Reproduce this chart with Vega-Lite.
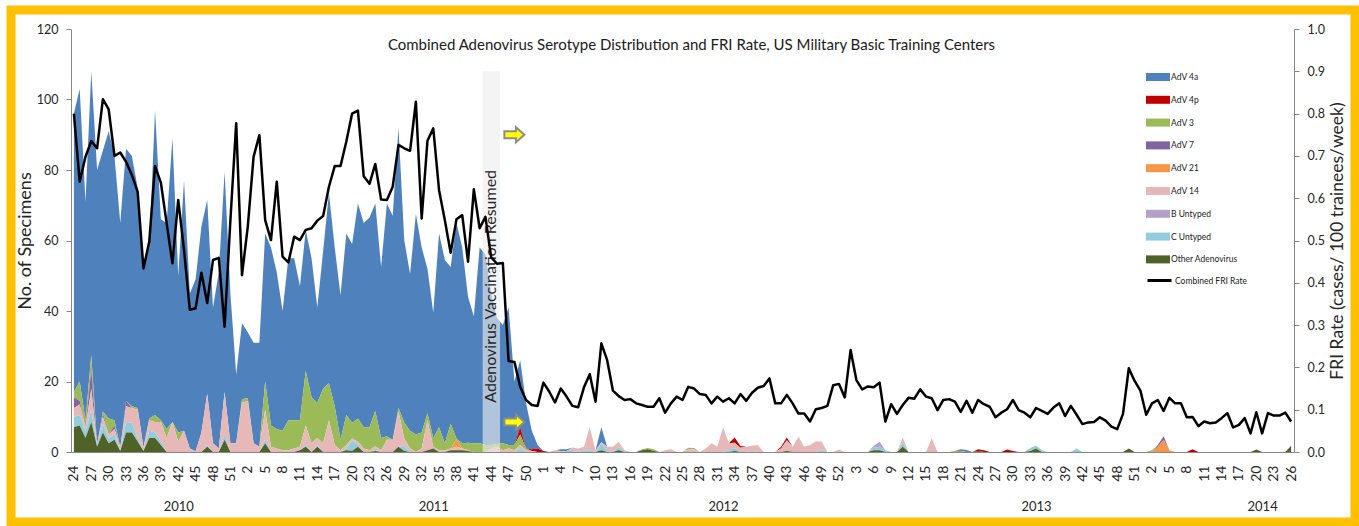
{
"$schema": "https://vega.github.io/schema/vega-lite/v6.json",
"width": 1344, "height": 512,
"autosize": {"type": "none"},
"padding": {"left": 11, "top": 10, "right": 4, "bottom": 4},
"background": "white",
"title": {"text": "Combined Adenovirus Serotype Distribution and FRI Rate, US Military Basic Training Centers", "anchor": "middle", "frame": "group", "baseline": "bottom", "offset": 0, "dy": 58, "dx": 8.5, "font": "Lato", "fontSize": 15, "fontWeight": "normal", "color": "#1a1a1a"},
"datasets": {"adv": [
{"t":"2010-24","a":79,"b":0,"c":1.5,"d":3,"e":0,"f":2.5,"g":0,"h":3,"i":7,"fri":0.8},
{"t":"2010-25","a":83,"b":0,"c":5.5,"d":1,"e":0,"f":3,"g":0,"h":3,"i":7.5,"fri":0.639},
{"t":"2010-26","a":62,"b":0,"c":2,"d":0,"e":0,"f":1,"g":0,"h":2,"i":4,"fri":0.698},
{"t":"2010-27","a":80.5,"b":0,"c":4,"d":5.5,"e":0,"f":6,"g":0,"h":3.5,"i":8.5,"fri":0.735},
{"t":"2010-28","a":77.9,"b":0,"c":0,"d":0,"e":0,"f":0.3,"g":0,"h":0.3,"i":1.5,"fri":0.718},
{"t":"2010-29","a":74,"b":0,"c":0.5,"d":1,"e":0,"f":2,"g":0,"h":2.5,"i":5.5,"fri":0.834},
{"t":"2010-30","a":81.5,"b":0,"c":4.5,"d":0,"e":0,"f":1,"g":0,"h":1.5,"i":2.5,"fri":0.81},
{"t":"2010-31","a":75,"b":0,"c":1.5,"d":1,"e":0,"f":1.5,"g":0,"h":1.5,"i":3.5,"fri":0.7},
{"t":"2010-32","a":63.7,"b":0,"c":0,"d":0,"e":0,"f":1,"g":0,"h":0,"i":0.3,"fri":0.708},
{"t":"2010-33","a":71.5,"b":0,"c":0,"d":1.5,"e":0,"f":4.5,"g":0,"h":3,"i":5.5,"fri":0.686},
{"t":"2010-34","a":71,"b":0,"c":0.5,"d":0,"e":0,"f":4.2,"g":0,"h":2.8,"i":5.5,"fri":0.655},
{"t":"2010-35","a":62.5,"b":0,"c":0.5,"d":0,"e":0,"f":8,"g":0,"h":1,"i":3,"fri":0.615},
{"t":"2010-36","a":52.7,"b":0,"c":0,"d":0,"e":0,"f":1,"g":0,"h":0,"i":0.3,"fri":0.434},
{"t":"2010-37","a":48.5,"b":0,"c":0.5,"d":0,"e":0,"f":3,"g":0,"h":2,"i":4,"fri":0.497},
{"t":"2010-38","a":86.5,"b":0,"c":2,"d":0,"e":0,"f":3,"g":0,"h":1.5,"i":4,"fri":0.676},
{"t":"2010-39","a":57,"b":0,"c":0.5,"d":0,"e":0,"f":5.5,"g":0,"h":1,"i":2,"fri":0.637},
{"t":"2010-40","a":58.5,"b":0,"c":2.5,"d":0,"e":0,"f":4,"g":0,"h":0,"i":0,"fri":0.541},
{"t":"2010-41","a":80.5,"b":0,"c":0,"d":0,"e":0,"f":8.5,"g":0,"h":0,"i":0,"fri":0.446},
{"t":"2010-42","a":44.5,"b":0,"c":2.5,"d":0,"e":0,"f":3,"g":0,"h":0,"i":0,"fri":0.596},
{"t":"2010-43","a":71,"b":0,"c":0,"d":0,"e":0,"f":6,"g":0,"h":0,"i":0,"fri":0.478},
{"t":"2010-44","a":44,"b":0,"c":0,"d":0,"e":0,"f":1,"g":0,"h":0,"i":0,"fri":0.336},
{"t":"2010-45","a":48.8,"b":0,"c":0,"d":0,"e":0,"f":0.2,"g":0,"h":0,"i":0,"fri":0.34},
{"t":"2010-46","a":58.5,"b":0,"c":0,"d":0,"e":0,"f":5.5,"g":0,"h":0,"i":0,"fri":0.424},
{"t":"2010-47","a":55,"b":0,"c":0,"d":0,"e":0,"f":14.5,"g":0,"h":0.5,"i":1.5,"fri":0.352},
{"t":"2010-48","a":38.5,"b":0,"c":0,"d":0,"e":0,"f":2.5,"g":0,"h":0,"i":0,"fri":0.454},
{"t":"2010-49","a":50,"b":0,"c":0,"d":0,"e":0,"f":1,"g":0,"h":0,"i":0,"fri":0.459},
{"t":"2010-50","a":62.5,"b":0,"c":0,"d":0,"e":0,"f":12,"g":0,"h":1.5,"i":3.5,"fri":0.296},
{"t":"2010-51","a":42.5,"b":0,"c":0,"d":0,"e":0,"f":2.5,"g":0,"h":0,"i":0,"fri":0.548},
{"t":"2010-52","a":19.5,"b":0,"c":0,"d":0,"e":0,"f":2.5,"g":0,"h":0,"i":0,"fri":0.777},
{"t":"2011-1","a":21.5,"b":0,"c":1,"d":0,"e":0,"f":14,"g":0,"h":0,"i":0,"fri":0.418},
{"t":"2011-2","a":18.7,"b":0,"c":0.8,"d":0,"e":0,"f":14.5,"g":0,"h":0,"i":0,"fri":0.533},
{"t":"2011-3","a":28.5,"b":0,"c":0,"d":0,"e":0,"f":2.5,"g":0,"h":0,"i":0,"fri":0.698},
{"t":"2011-4","a":29.5,"b":0,"c":0,"d":0,"e":0,"f":1.5,"g":0,"h":0,"i":0,"fri":0.749},
{"t":"2011-5","a":42,"b":0,"c":8,"d":0,"e":0,"f":8.5,"g":0,"h":1,"i":2.5,"fri":0.548},
{"t":"2011-6","a":50.5,"b":0,"c":6,"d":0,"e":0,"f":1.5,"g":0,"h":0,"i":0,"fri":0.501},
{"t":"2011-7","a":44.5,"b":0,"c":5.5,"d":0,"e":0,"f":1,"g":0,"h":0,"i":0,"fri":0.639},
{"t":"2011-8","a":34,"b":0,"c":5.5,"d":0,"e":0,"f":0.5,"g":0,"h":0,"i":0,"fri":0.462},
{"t":"2011-9","a":46,"b":0,"c":8.5,"d":0,"e":0,"f":0.5,"g":0,"h":0,"i":0,"fri":0.448},
{"t":"2011-10","a":46,"b":0,"c":8,"d":0,"e":0,"f":1,"g":0,"h":0,"i":0,"fri":0.509},
{"t":"2011-11","a":38,"b":0,"c":7.5,"d":0,"e":0,"f":1,"g":0,"h":0,"i":0.5,"fri":0.501},
{"t":"2011-12","a":40,"b":0,"c":15.5,"d":0,"e":0,"f":5.5,"g":0,"h":0.5,"i":1.5,"fri":0.525},
{"t":"2011-13","a":39.5,"b":0,"c":13,"d":0,"e":0,"f":2.5,"g":0,"h":0,"i":0,"fri":0.529},
{"t":"2011-14","a":27,"b":0,"c":10,"d":0,"e":0,"f":2,"g":0,"h":0.5,"i":1.5,"fri":0.547},
{"t":"2011-15","a":39,"b":0,"c":15.5,"d":0,"e":0,"f":2.5,"g":0,"h":0,"i":0,"fri":0.558},
{"t":"2011-16","a":54,"b":0,"c":10.5,"d":0,"e":0,"f":9,"g":0,"h":0,"i":0,"fri":0.627},
{"t":"2011-17","a":45,"b":0,"c":11,"d":0,"e":0,"f":2,"g":0,"h":0,"i":0,"fri":0.676},
{"t":"2011-18","a":41,"b":0,"c":3,"d":0,"e":0,"f":0.5,"g":0,"h":0,"i":0,"fri":0.676},
{"t":"2011-19","a":51.5,"b":0,"c":8.5,"d":0,"e":0,"f":1,"g":0,"h":0.5,"i":0.5,"fri":0.734},
{"t":"2011-20","a":50.7,"b":0,"c":4.5,"d":0,"e":0,"f":0.5,"g":0,"h":3,"i":0.3,"fri":0.8},
{"t":"2011-21","a":61,"b":0,"c":6.5,"d":0,"e":0,"f":1,"g":0,"h":0.5,"i":1.5,"fri":0.807},
{"t":"2011-22","a":58,"b":0,"c":6,"d":0,"e":0,"f":1,"g":0,"h":0,"i":0,"fri":0.652},
{"t":"2011-23","a":59.5,"b":0,"c":6.5,"d":0,"e":0,"f":0.5,"g":0,"h":0,"i":0,"fri":0.634},
{"t":"2011-24","a":58.9,"b":0,"c":10,"d":0,"e":0,"f":1,"g":0,"h":0.3,"i":0.3,"fri":0.681},
{"t":"2011-25","a":48.5,"b":0,"c":3.5,"d":0,"e":0,"f":0.5,"g":0,"h":0,"i":0,"fri":0.597},
{"t":"2011-26","a":66,"b":0,"c":1,"d":0,"e":0,"f":3.5,"g":0,"h":0,"i":0,"fri":0.596},
{"t":"2011-27","a":63.5,"b":0,"c":0,"d":0,"e":0,"f":3.5,"g":0,"h":0,"i":0,"fri":0.627},
{"t":"2011-28","a":79.5,"b":0,"c":1,"d":0,"e":0,"f":10,"g":0,"h":0,"i":1.5,"fri":0.726},
{"t":"2011-29","a":51.7,"b":0,"c":4.5,"d":0,"e":0,"f":2,"g":0,"h":1.5,"i":0.3,"fri":0.718},
{"t":"2011-30","a":44.5,"b":0,"c":5,"d":0,"e":0,"f":1,"g":0,"h":0,"i":0,"fri":0.712},
{"t":"2011-31","a":62.5,"b":0,"c":5,"d":0,"e":0,"f":0,"g":0,"h":0,"i":0,"fri":0.828},
{"t":"2011-32","a":52.5,"b":0,"c":4.5,"d":0,"e":0,"f":1,"g":0,"h":0,"i":0,"fri":0.552},
{"t":"2011-33","a":41,"b":0,"c":2,"d":0,"e":0,"f":8.5,"g":0,"h":0,"i":0.5,"fri":0.736},
{"t":"2011-34","a":35.5,"b":0,"c":2.5,"d":0,"e":0,"f":0.5,"g":0,"h":0,"i":1,"fri":0.765},
{"t":"2011-35","a":55,"b":0,"c":6.5,"d":0,"e":0,"f":0.5,"g":0,"h":0,"i":0,"fri":0.619},
{"t":"2011-36","a":52,"b":0,"c":2,"d":0,"e":0,"f":0.5,"g":0,"h":0,"i":0,"fri":0.548},
{"t":"2011-37","a":44.5,"b":0,"c":7,"d":0,"e":0,"f":0.5,"g":0,"h":0,"i":0.5,"fri":0.471},
{"t":"2011-38","a":61.2,"b":0,"c":0.3,"d":0,"e":2,"f":1,"g":0,"h":0,"i":0.5,"fri":0.55},
{"t":"2011-39","a":55.5,"b":0,"c":1.5,"d":0,"e":0,"f":0.5,"g":0,"h":0,"i":0.5,"fri":0.56},
{"t":"2011-40","a":41.4,"b":0,"c":2,"d":0,"e":0,"f":0.3,"g":0,"h":0,"i":0.3,"fri":0.45},
{"t":"2011-41","a":36,"b":0,"c":2.5,"d":0,"e":0,"f":0,"g":0,"h":0,"i":0,"fri":0.621},
{"t":"2011-42","a":55.5,"b":0,"c":2.5,"d":0,"e":0,"f":0,"g":0,"h":0,"i":0,"fri":0.529},
{"t":"2011-43","a":54,"b":0,"c":2,"d":0,"e":0,"f":0,"g":0,"h":0,"i":0,"fri":0.556},
{"t":"2011-44","a":43,"b":0,"c":1,"d":0,"e":0,"f":1,"g":0,"h":0,"i":0,"fri":0.46},
{"t":"2011-45","a":35.7,"b":0,"c":0.8,"d":0,"e":0,"f":1.5,"g":0,"h":0,"i":0,"fri":0.445},
{"t":"2011-46","a":33.5,"b":0,"c":2,"d":0,"e":0,"f":0.5,"g":0,"h":0,"i":0,"fri":0.447},
{"t":"2011-47","a":39,"b":0,"c":1,"d":0,"e":0,"f":1,"g":0,"h":0,"i":0,"fri":0.215},
{"t":"2011-48","a":18,"b":0,"c":1.5,"d":0,"e":0,"f":0.5,"g":0,"h":0,"i":0,"fri":0.213},
{"t":"2011-49","a":19,"b":2,"c":3,"d":0,"e":0,"f":1,"g":0,"h":1,"i":0,"fri":0.154},
{"t":"2011-50","a":13,"b":0,"c":0.5,"d":0,"e":0,"f":0.5,"g":0,"h":0,"i":0,"fri":0.123},
{"t":"2011-51","a":5.2,"b":0.5,"c":0,"d":0,"e":0,"f":0.3,"g":0,"h":0,"i":0,"fri":0.111},
{"t":"2011-52","a":1,"b":1,"c":0,"d":0,"e":0,"f":0,"g":0,"h":0,"i":0,"fri":0.109},
{"t":"2012-1","a":0,"b":0.3,"c":0,"d":0,"e":0,"f":0,"g":0,"h":0,"i":0,"fri":0.164},
{"t":"2012-2","a":0,"b":0,"c":0,"d":0,"e":0,"f":0,"g":0,"h":0,"i":0,"fri":0.143},
{"t":"2012-3","a":0,"b":0,"c":0,"d":0,"e":0,"f":0.5,"g":0,"h":0,"i":0,"fri":0.117},
{"t":"2012-4","a":0.5,"b":0,"c":0,"d":0,"e":0,"f":0.3,"g":0,"h":0,"i":0,"fri":0.15},
{"t":"2012-5","a":0.5,"b":0,"c":0,"d":0,"e":0,"f":0,"g":0,"h":0.3,"i":0,"fri":0.131},
{"t":"2012-6","a":0,"b":0,"c":0,"d":0,"e":0,"f":1,"g":0,"h":0.3,"i":0,"fri":0.109},
{"t":"2012-7","a":0,"b":0,"c":0,"d":0,"e":0,"f":1,"g":0,"h":0,"i":0,"fri":0.106},
{"t":"2012-8","a":0,"b":0,"c":0,"d":0,"e":0,"f":1,"g":0,"h":0.5,"i":0,"fri":0.153},
{"t":"2012-9","a":0,"b":0,"c":0,"d":0,"e":0,"f":6.5,"g":0,"h":0.5,"i":0,"fri":0.184},
{"t":"2012-10","a":0,"b":0,"c":0,"d":0,"e":0,"f":0.5,"g":0,"h":0,"i":0,"fri":0.119},
{"t":"2012-11","a":4.2,"b":0,"c":0,"d":0,"e":0,"f":0.3,"g":0,"h":2,"i":0.5,"fri":0.257},
{"t":"2012-12","a":0,"b":0,"c":0,"d":0,"e":0,"f":1.2,"g":0,"h":0.3,"i":0,"fri":0.217},
{"t":"2012-13","a":0,"b":0,"c":0,"d":0,"e":0,"f":1.5,"g":0,"h":0,"i":0,"fri":0.145},
{"t":"2012-14","a":0,"b":0,"c":0,"d":0,"e":0,"f":1.4,"g":0,"h":1,"i":0.5,"fri":0.132},
{"t":"2012-15","a":0,"b":0,"c":0,"d":0,"e":0,"f":0.5,"g":0,"h":0,"i":0,"fri":0.123},
{"t":"2012-16","a":0,"b":0,"c":0,"d":0,"e":0,"f":0,"g":0,"h":0,"i":0,"fri":0.125},
{"t":"2012-17","a":0,"b":0,"c":0,"d":0,"e":0,"f":0,"g":0,"h":0,"i":0,"fri":0.115},
{"t":"2012-18","a":0,"b":0,"c":0.3,"d":0,"e":0,"f":0,"g":0,"h":0,"i":0.5,"fri":0.111},
{"t":"2012-19","a":0,"b":0,"c":0.3,"d":0,"e":0,"f":0,"g":0,"h":0,"i":0.8,"fri":0.107},
{"t":"2012-20","a":0,"b":0,"c":0.5,"d":0,"e":0,"f":0,"g":0,"h":0,"i":0.3,"fri":0.107},
{"t":"2012-21","a":0,"b":0,"c":0,"d":0,"e":0,"f":0,"g":0,"h":0,"i":0,"fri":0.127},
{"t":"2012-22","a":0,"b":0,"c":0,"d":0,"e":0,"f":0.5,"g":0,"h":0,"i":0,"fri":0.093},
{"t":"2012-23","a":0,"b":0,"c":0,"d":0,"e":0,"f":0.8,"g":0,"h":0,"i":0,"fri":0.115},
{"t":"2012-24","a":0,"b":0,"c":0,"d":0,"e":0,"f":0,"g":0,"h":0,"i":0,"fri":0.131},
{"t":"2012-25","a":0,"b":0,"c":0,"d":0,"e":0,"f":0,"g":0,"h":0,"i":0,"fri":0.123},
{"t":"2012-26","a":0,"b":0,"c":0.5,"d":0,"e":0,"f":0.7,"g":0,"h":0,"i":0,"fri":0.154},
{"t":"2012-27","a":0,"b":0,"c":0.3,"d":0,"e":0,"f":0.8,"g":0,"h":0,"i":0,"fri":0.15},
{"t":"2012-28","a":0,"b":0,"c":0,"d":0,"e":0,"f":0,"g":0,"h":0,"i":0,"fri":0.137},
{"t":"2012-29","a":0,"b":0,"c":0,"d":0,"e":0,"f":1,"g":0,"h":0,"i":0,"fri":0.135},
{"t":"2012-30","a":0,"b":0,"c":0,"d":0,"e":0,"f":2.5,"g":0,"h":0,"i":0,"fri":0.115},
{"t":"2012-31","a":0,"b":0,"c":0,"d":0,"e":0,"f":1.5,"g":0,"h":0,"i":0,"fri":0.131},
{"t":"2012-32","a":0,"b":0,"c":0,"d":0,"e":0,"f":7,"g":0,"h":0,"i":0,"fri":0.119},
{"t":"2012-33","a":0,"b":0,"c":0,"d":0,"e":0,"f":2,"g":0,"h":0.5,"i":0,"fri":0.127},
{"t":"2012-34","a":0,"b":1.5,"c":0,"d":0,"e":0,"f":1.5,"g":0,"h":0.8,"i":0.3,"fri":0.115},
{"t":"2012-35","a":0,"b":0.5,"c":0,"d":0,"e":0,"f":1.2,"g":0,"h":0,"i":0,"fri":0.137},
{"t":"2012-36","a":0,"b":0,"c":0,"d":0,"e":0,"f":1.5,"g":0,"h":0,"i":0,"fri":0.121},
{"t":"2012-37","a":0,"b":0,"c":0,"d":0,"e":0,"f":1.5,"g":0,"h":0.3,"i":0,"fri":0.14},
{"t":"2012-38","a":0,"b":0,"c":0,"d":0,"e":0,"f":2,"g":0,"h":0,"i":0,"fri":0.152},
{"t":"2012-39","a":0,"b":0,"c":0,"d":0,"e":0,"f":0,"g":0,"h":0,"i":0,"fri":0.156},
{"t":"2012-40","a":0,"b":0,"c":0,"d":0,"e":0,"f":0,"g":0,"h":0,"i":0,"fri":0.174},
{"t":"2012-41","a":0,"b":0,"c":0,"d":0,"e":0,"f":0,"g":0,"h":0,"i":0,"fri":0.115},
{"t":"2012-42","a":0,"b":0.5,"c":0,"d":0,"e":0,"f":1,"g":0,"h":0,"i":0,"fri":0.115},
{"t":"2012-43","a":0,"b":0.8,"c":0,"d":0,"e":0,"f":3,"g":0,"h":0,"i":0.3,"fri":0.135},
{"t":"2012-44","a":0,"b":0,"c":0,"d":0,"e":0,"f":1.5,"g":0,"h":0,"i":0,"fri":0.115},
{"t":"2012-45","a":0,"b":0,"c":0,"d":0,"e":0,"f":4.3,"g":0,"h":0,"i":0,"fri":0.091},
{"t":"2012-46","a":0,"b":0,"c":0,"d":0,"e":0,"f":1.5,"g":0,"h":0,"i":0,"fri":0.091},
{"t":"2012-47","a":0,"b":0,"c":0,"d":0,"e":0,"f":2,"g":0,"h":0,"i":0,"fri":0.072},
{"t":"2012-48","a":0,"b":0,"c":0,"d":0,"e":0,"f":3,"g":0,"h":0,"i":0,"fri":0.101},
{"t":"2012-49","a":0,"b":0,"c":0,"d":0,"e":0,"f":2.5,"g":0,"h":0.5,"i":0,"fri":0.104},
{"t":"2012-50","a":0,"b":0,"c":0,"d":0,"e":0,"f":0,"g":0,"h":0,"i":0,"fri":0.109},
{"t":"2012-51","a":0,"b":0,"c":0,"d":0,"e":0,"f":0,"g":0,"h":0,"i":0,"fri":0.158},
{"t":"2012-52","a":0,"b":0,"c":0,"d":0,"e":0,"f":0.7,"g":0,"h":0,"i":0,"fri":0.161},
{"t":"2013-1","a":0,"b":0,"c":0,"d":0,"e":0,"f":0,"g":0,"h":0,"i":0,"fri":0.129},
{"t":"2013-2","a":0,"b":0,"c":0,"d":0,"e":0,"f":0,"g":0,"h":0,"i":0,"fri":0.241},
{"t":"2013-3","a":0,"b":0,"c":0,"d":0,"e":0,"f":0,"g":0,"h":0,"i":0,"fri":0.17},
{"t":"2013-4","a":0,"b":0,"c":0,"d":0,"e":0,"f":0,"g":0,"h":0,"i":0,"fri":0.148},
{"t":"2013-5","a":0,"b":0,"c":0,"d":0,"e":0,"f":0,"g":0,"h":0,"i":0,"fri":0.155},
{"t":"2013-6","a":0,"b":0,"c":0,"d":0,"e":0,"f":0,"g":0.5,"h":0.8,"i":0.5,"fri":0.153},
{"t":"2013-7","a":0,"b":0,"c":0,"d":0,"e":0,"f":0,"g":1.4,"h":1,"i":0.5,"fri":0.164},
{"t":"2013-8","a":0,"b":0,"c":0,"d":0,"e":0,"f":0,"g":0,"h":0.5,"i":0,"fri":0.072},
{"t":"2013-9","a":0,"b":0,"c":0,"d":0,"e":0,"f":0,"g":0,"h":0,"i":0,"fri":0.113},
{"t":"2013-10","a":0,"b":0,"c":0,"d":0,"e":0,"f":0,"g":0,"h":0,"i":0,"fri":0.09},
{"t":"2013-11","a":0,"b":0,"c":0,"d":0,"e":0,"f":1.4,"g":0,"h":1.2,"i":1.5,"fri":0.111},
{"t":"2013-12","a":0,"b":0,"c":0,"d":0,"e":0,"f":0,"g":0,"h":0,"i":0,"fri":0.128},
{"t":"2013-13","a":0,"b":0,"c":0,"d":0,"e":0,"f":0,"g":0,"h":0,"i":0,"fri":0.126},
{"t":"2013-14","a":0,"b":0,"c":0,"d":0,"e":0,"f":0,"g":0,"h":0,"i":0,"fri":0.148},
{"t":"2013-15","a":0,"b":0,"c":0,"d":0,"e":0,"f":0,"g":0,"h":0,"i":0,"fri":0.131},
{"t":"2013-16","a":0,"b":0,"c":0,"d":0,"e":0,"f":3.9,"g":0,"h":0,"i":0,"fri":0.127},
{"t":"2013-17","a":0,"b":0,"c":0,"d":0,"e":0,"f":0,"g":0,"h":0,"i":0,"fri":0.099},
{"t":"2013-18","a":0,"b":0,"c":0,"d":0,"e":0,"f":0,"g":0,"h":0,"i":0,"fri":0.123},
{"t":"2013-19","a":0,"b":0,"c":0,"d":0,"e":0,"f":0,"g":0,"h":0,"i":0,"fri":0.125},
{"t":"2013-20","a":0,"b":0,"c":0.3,"d":0,"e":0,"f":0,"g":0,"h":0,"i":0,"fri":0.119},
{"t":"2013-21","a":0.5,"b":0,"c":0.3,"d":0,"e":0,"f":0,"g":0,"h":0,"i":0,"fri":0.095},
{"t":"2013-22","a":0.6,"b":0,"c":0,"d":0,"e":0,"f":0,"g":0,"h":0,"i":0,"fri":0.121},
{"t":"2013-23","a":0,"b":0,"c":0,"d":0,"e":0,"f":0,"g":0,"h":0,"i":0,"fri":0.093},
{"t":"2013-24","a":0,"b":0.5,"c":0,"d":0,"e":0,"f":0,"g":0,"h":0,"i":0.3,"fri":0.123},
{"t":"2013-25","a":0,"b":0.5,"c":0,"d":0,"e":0,"f":0,"g":0,"h":0,"i":0,"fri":0.113},
{"t":"2013-26","a":0,"b":0,"c":0,"d":0,"e":0,"f":0,"g":0,"h":0,"i":0,"fri":0.107},
{"t":"2013-27","a":0,"b":0,"c":0,"d":0,"e":0,"f":0,"g":0,"h":0,"i":0,"fri":0.082},
{"t":"2013-28","a":0,"b":0,"c":0,"d":0,"e":0,"f":0,"g":0,"h":0,"i":0,"fri":0.093},
{"t":"2013-29","a":0,"b":0.7,"c":0,"d":0,"e":0,"f":0,"g":0,"h":0,"i":0,"fri":0.101},
{"t":"2013-30","a":0,"b":0.3,"c":0,"d":0,"e":0,"f":0,"g":0,"h":0,"i":0,"fri":0.123},
{"t":"2013-31","a":0,"b":0,"c":0,"d":0,"e":0,"f":0,"g":0,"h":0,"i":0,"fri":0.099},
{"t":"2013-32","a":0,"b":0,"c":0,"d":0,"e":0,"f":0,"g":0,"h":0,"i":0,"fri":0.093},
{"t":"2013-33","a":0,"b":0,"c":0,"d":0,"e":0,"f":0,"g":0,"h":0.8,"i":0.3,"fri":0.082},
{"t":"2013-34","a":0,"b":0,"c":0,"d":0,"e":0,"f":0,"g":0,"h":0.8,"i":1,"fri":0.104},
{"t":"2013-35","a":0,"b":0,"c":0,"d":0,"e":0,"f":0,"g":0,"h":0.5,"i":0,"fri":0.097},
{"t":"2013-36","a":0,"b":0,"c":0,"d":0,"e":0,"f":0,"g":0,"h":0,"i":0,"fri":0.09},
{"t":"2013-37","a":0,"b":0,"c":0,"d":0,"e":0,"f":0,"g":0,"h":0,"i":0,"fri":0.105},
{"t":"2013-38","a":0,"b":0,"c":0,"d":0,"e":0,"f":0,"g":0,"h":0,"i":0,"fri":0.115},
{"t":"2013-39","a":0,"b":0,"c":0,"d":0,"e":0,"f":0,"g":0,"h":0,"i":0,"fri":0.085},
{"t":"2013-40","a":0,"b":0,"c":0,"d":0,"e":0,"f":0,"g":0,"h":0,"i":0,"fri":0.109},
{"t":"2013-41","a":0,"b":0,"c":0,"d":0,"e":0,"f":0,"g":0,"h":1,"i":0,"fri":0.088},
{"t":"2013-42","a":0,"b":0,"c":0,"d":0,"e":0,"f":0,"g":0,"h":0,"i":0,"fri":0.066},
{"t":"2013-43","a":0,"b":0,"c":0,"d":0,"e":0,"f":0,"g":0,"h":0,"i":0,"fri":0.07},
{"t":"2013-44","a":0,"b":0,"c":0,"d":0,"e":0,"f":0,"g":0,"h":0,"i":0,"fri":0.071},
{"t":"2013-45","a":0,"b":0,"c":0,"d":0,"e":0,"f":0,"g":0,"h":0,"i":0,"fri":0.082},
{"t":"2013-46","a":0,"b":0,"c":0,"d":0,"e":0,"f":0,"g":0,"h":0,"i":0,"fri":0.074},
{"t":"2013-47","a":0,"b":0,"c":0,"d":0,"e":0,"f":0,"g":0,"h":0,"i":0,"fri":0.06},
{"t":"2013-48","a":0,"b":0,"c":0,"d":0,"e":0,"f":0,"g":0,"h":0,"i":0,"fri":0.054},
{"t":"2013-49","a":0,"b":0,"c":0,"d":0,"e":0,"f":0,"g":0,"h":0,"i":0,"fri":0.09},
{"t":"2013-50","a":0,"b":0,"c":0,"d":0,"e":0,"f":0,"g":0,"h":0,"i":1,"fri":0.198},
{"t":"2013-51","a":0,"b":0,"c":0,"d":0,"e":0,"f":0,"g":0,"h":0,"i":0,"fri":0.168},
{"t":"2013-52","a":0,"b":0,"c":0,"d":0,"e":0,"f":0,"g":0,"h":0,"i":0,"fri":0.145},
{"t":"2014-1","a":0,"b":0,"c":0,"d":0,"e":0,"f":0,"g":0,"h":0,"i":0,"fri":0.088},
{"t":"2014-2","a":0,"b":0,"c":0.5,"d":0,"e":0,"f":0,"g":0,"h":0,"i":0,"fri":0.115},
{"t":"2014-3","a":0,"b":0,"c":0,"d":0.5,"e":1.5,"f":0,"g":0,"h":0,"i":0,"fri":0.123},
{"t":"2014-4","a":0,"b":0,"c":0,"d":1.1,"e":3.4,"f":0,"g":0,"h":0,"i":0,"fri":0.097},
{"t":"2014-5","a":0,"b":0,"c":0,"d":0,"e":0.5,"f":0,"g":0,"h":0,"i":0,"fri":0.128},
{"t":"2014-6","a":0,"b":0,"c":0,"d":0,"e":0,"f":0,"g":0,"h":0,"i":0,"fri":0.115},
{"t":"2014-7","a":0,"b":0,"c":0,"d":0,"e":0,"f":0,"g":0,"h":0,"i":0,"fri":0.115},
{"t":"2014-8","a":0,"b":0,"c":0,"d":0,"e":0,"f":0,"g":0,"h":0,"i":0,"fri":0.082},
{"t":"2014-9","a":0,"b":0.8,"c":0,"d":0,"e":0,"f":0,"g":0,"h":0,"i":0,"fri":0.083},
{"t":"2014-10","a":0,"b":0,"c":0,"d":0,"e":0,"f":0,"g":0,"h":0,"i":0,"fri":0.061},
{"t":"2014-11","a":0,"b":0,"c":0,"d":0,"e":0,"f":0,"g":0,"h":0,"i":0,"fri":0.072},
{"t":"2014-12","a":0,"b":0,"c":0,"d":0,"e":0,"f":0,"g":0,"h":0,"i":0,"fri":0.068},
{"t":"2014-13","a":0,"b":0,"c":0,"d":0,"e":0,"f":0,"g":0,"h":0,"i":0,"fri":0.07},
{"t":"2014-14","a":0,"b":0,"c":0,"d":0,"e":0,"f":0,"g":0,"h":0,"i":0,"fri":0.08},
{"t":"2014-15","a":0,"b":0,"c":0,"d":0,"e":0,"f":0,"g":0,"h":0,"i":0,"fri":0.092},
{"t":"2014-16","a":0,"b":0,"c":0,"d":0,"e":0,"f":0,"g":0,"h":0,"i":0,"fri":0.058},
{"t":"2014-17","a":0,"b":0,"c":0,"d":0,"e":0,"f":0,"g":0,"h":0,"i":0,"fri":0.064},
{"t":"2014-18","a":0,"b":0,"c":0,"d":0,"e":0,"f":0,"g":0,"h":0,"i":0,"fri":0.08},
{"t":"2014-19","a":0,"b":0,"c":0,"d":0,"e":0,"f":0,"g":0,"h":0,"i":0,"fri":0.044},
{"t":"2014-20","a":0,"b":0,"c":0,"d":0,"e":0,"f":0,"g":0,"h":0,"i":0.7,"fri":0.094},
{"t":"2014-21","a":0,"b":0,"c":0,"d":0,"e":0,"f":0,"g":0,"h":0,"i":0,"fri":0.044},
{"t":"2014-22","a":0,"b":0,"c":0,"d":0,"e":0,"f":0,"g":0,"h":0,"i":0,"fri":0.092},
{"t":"2014-23","a":0,"b":0,"c":0,"d":0,"e":0,"f":0,"g":0,"h":0,"i":0,"fri":0.086},
{"t":"2014-24","a":0,"b":0,"c":0,"d":0,"e":0,"f":0,"g":0,"h":0,"i":0,"fri":0.086},
{"t":"2014-25","a":0,"b":0,"c":0,"d":0,"e":0,"f":0,"g":0,"h":0,"i":0,"fri":0.093},
{"t":"2014-26","a":0,"b":0,"c":0,"d":0,"e":0,"f":0,"g":0,"h":0,"i":1.8,"fri":0.072}
]},
"data": {"name": "adv"},
"layer": [
 {"layer": [
  {"transform": [{"fold": ["a","b","c","d","e","f","g","h","i"], "as": ["s","n"]}],
   "mark": {"type": "area", "interpolate": "linear"},
   "encoding": {
    "x": {"field": "t", "type": "ordinal", "sort": null, "scale": {"type": "point", "padding": 0.5, "range": [60, 1283]},
      "axis": {"title": null, "offset": -70, "labelAngle": -90, "labelFontSize": 14, "ticks": false, "labelPadding": 13, "labelOverlap": false, "labelExpr": "split(datum.label, '-')[1]",
        "values": ["2010-24","2010-27","2010-30","2010-33","2010-36","2010-39","2010-42","2010-45","2010-48","2010-51","2011-2","2011-5","2011-8","2011-11","2011-14","2011-17","2011-20","2011-23","2011-26","2011-29","2011-32","2011-35","2011-38","2011-41","2011-44","2011-47","2011-50","2012-1","2012-4","2012-7","2012-10","2012-13","2012-16","2012-19","2012-22","2012-25","2012-28","2012-31","2012-34","2012-37","2012-40","2012-43","2012-46","2012-49","2012-52","2013-3","2013-6","2013-9","2013-12","2013-15","2013-18","2013-21","2013-24","2013-27","2013-30","2013-33","2013-36","2013-39","2013-42","2013-45","2013-48","2013-51","2014-2","2014-5","2014-8","2014-11","2014-14","2014-17","2014-20","2014-23","2014-26"]}},
    "y": {"field": "n", "type": "quantitative", "stack": "zero", "scale": {"domain": [0, 120], "nice": false, "range": [442, 19]},
      "axis": {"offset": -60, "values": [0,20,40,60,80,100,120], "title": "No. of Specimens", "titleFontSize": 18, "titlePadding": 2, "labelFontSize": 12.5, "labelPadding": 8}},
    "fill": {"field": "s", "type": "nominal",
      "scale": {"domain": ["a","b","c","d","e","f","g","h","i"], "range": ["#4F81BD","#C00000","#9BBB59","#8064A2","#F79646","#E6B9B8","#B3A2C7","#93CDDD","#4F6228"]},
      "legend": {"orient": "none", "legendX": 1137, "legendY": 57, "title": null, "padding": 0,
        "symbolType": "M-1.2,-0.4H1.2V0.4H-1.2Z", "symbolSize": 400, "symbolStrokeWidth": 0, "symbolOpacity": 1,
        "labelFont": "Lato", "labelFontSize": 8.5, "labelColor": "#1a1a1a", "labelOffset": 3, "rowPadding": 7.8,
        "labelExpr": "datum.label == 'a' ? 'AdV 4a' : datum.label == 'b' ? 'AdV 4p' : datum.label == 'c' ? 'AdV 3' : datum.label == 'd' ? 'AdV 7' : datum.label == 'e' ? 'AdV 21' : datum.label == 'f' ? 'AdV 14' : datum.label == 'g' ? 'B Untyped' : datum.label == 'h' ? 'C Untyped' : 'Other Adenovirus'"}}
   }},
  {"transform": [{"filter": {"field": "t", "oneOf": ["2011-42","2011-43","2011-44","2011-45"]}}],
   "mark": {"type": "area", "fill": "#eeeeee", "opacity": 0.62, "xOffset": 3},
   "encoding": {"x": {"field": "t", "type": "ordinal", "sort": null}, "y": {"datum": 108, "type": "quantitative"}, "y2": {"datum": 0}}},
  {"transform": [{"filter": {"field": "t", "equal": "2011-44"}}],
   "mark": {"type": "text", "text": "Adenovirus Vaccination Resumed", "angle": 270, "font": "Lato", "fontSize": 16, "color": "#262626", "align": "center", "baseline": "middle"},
   "encoding": {"x": {"field": "t", "type": "ordinal", "sort": null}, "y": {"datum": 47, "type": "quantitative"}}},
  {"transform": [{"filter": {"field": "t", "equal": "2011-48"}}],
   "mark": {"type": "point", "shape": "M-1,-0.35L0.15,-0.35L0.15,-0.75L1,0L0.15,0.75L0.15,0.35L-1,0.35Z", "size": 400, "filled": true, "fill": "#FFFF00", "stroke": "#8c8c8c", "strokeWidth": 2, "opacity": 1},
   "encoding": {"x": {"field": "t", "type": "ordinal", "sort": null}, "y": {"datum": 90, "type": "quantitative"}}},
  {"transform": [{"filter": {"field": "t", "equal": "2011-48"}}],
   "mark": {"type": "point", "shape": "M-1,-0.35L0.15,-0.35L0.15,-0.75L1,0L0.15,0.75L0.15,0.35L-1,0.35Z", "size": 400, "filled": true, "fill": "#FFFF00", "stroke": "#8c8c8c", "strokeWidth": 2, "opacity": 1},
   "encoding": {"x": {"field": "t", "type": "ordinal", "sort": null}, "y": {"datum": 8.5, "type": "quantitative"}}}
 ]},
 {"mark": {"type": "line", "strokeWidth": 2.5, "strokeJoin": "round"},
  "encoding": {
   "x": {"field": "t", "type": "ordinal", "sort": null,
     "axis": {"orient": "bottom", "title": null, "values": ["2010-42","2011-34","2012-32","2013-34","2014-21"], "labelExpr": "split(datum.label, '-')[0]", "labelAngle": 0, "labelAlign": "center", "labelBaseline": "top", "labelFontSize": 13, "domain": false, "ticks": false, "offset": -24, "labelPadding": 2}},
   "y": {"field": "fri", "type": "quantitative", "scale": {"domain": [0, 1], "nice": false, "range": [442, 19]},
     "axis": {"orient": "right", "offset": -61, "values": [0,0.1,0.2,0.3,0.4,0.5,0.6,0.7,0.8,0.9,1], "format": ".1f", "title": "FRI Rate (cases/ 100 trainees/week)", "titleAngle": 270, "titleBaseline": "top", "titleFontSize": 17.5, "titlePadding": 4, "labelFontSize": 12.5, "labelPadding": 8}},
   "stroke": {"datum": "Combined FRI Rate", "scale": {"range": ["#000000"]},
     "legend": {"orient": "none", "legendX": 1135, "legendY": 257, "title": null, "padding": 0, "symbolType": "stroke", "symbolSize": 576, "symbolStrokeWidth": 3, "labelFont": "Lato", "labelFontSize": 8.5, "labelColor": "#1a1a1a", "labelOffset": 2}}
  }}
],
"resolve": {"scale": {"y": "independent"}, "axis": {"x": "independent"}},
"config": {
 "font": "Lato",
 "view": {"stroke": "#FFC000", "strokeWidth": 9},
 "axis": {"labelFont": "Lato", "titleFont": "Lato", "labelColor": "#262626", "titleColor": "#262626", "titleFontWeight": "normal", "domainColor": "#868686", "tickColor": "#868686", "tickSize": 5, "grid": false}
}
}
